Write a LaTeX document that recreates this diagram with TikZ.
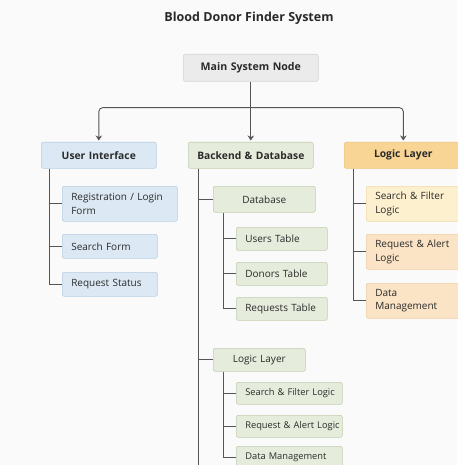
\documentclass[tikz,border=0pt]{standalone}
\usepackage{fontspec}
\setmainfont{Open Sans}
\usetikzlibrary{arrows.meta}
\definecolor{bg}{HTML}{FAFAFA}
\definecolor{txt}{HTML}{2A2A2A}
\definecolor{ln}{HTML}{555555}
\definecolor{grayf}{HTML}{EBEBEB}\definecolor{grayd}{HTML}{D4D4D4}
\definecolor{bluef}{HTML}{DCE9F4}\definecolor{blued}{HTML}{B7CEE2}
\definecolor{greenf}{HTML}{E6ECDB}\definecolor{greend}{HTML}{C2CEAE}
\definecolor{orf}{HTML}{F8D595}\definecolor{ord}{HTML}{EDC27A}
\definecolor{yelf}{HTML}{FDF0CF}\definecolor{yeld}{HTML}{EFD9A8}
\definecolor{pchf}{HTML}{FBE3C6}\definecolor{pchd}{HTML}{EECDA3}
\tikzset{
  box/.style={draw, rounded corners=2pt, line width=0.6pt, anchor=north west,
    inner xsep=9pt, inner ysep=0pt, text=txt, font=\fontsize{10}{13.5}\selectfont, align=left},
  small/.style={font=\fontsize{9.3}{12}\selectfont},
  head/.style={box, align=center, font=\bfseries\fontsize{10.3}{12}\selectfont},
  mid/.style={box, align=center},
  blue/.style={fill=bluef, draw=blued},
  green/.style={fill=greenf, draw=greend},
  orng/.style={fill=orf, draw=ord},
  yel/.style={fill=yelf, draw=yeld},
  pch/.style={fill=pchf, draw=pchd},
  tree/.style={draw=ln, line width=0.9pt},
  arr/.style={draw=ln, line width=0.9pt, -{Stealth[length=5pt,width=6.5pt]}, shorten >=1.5pt},
}
\begin{document}
\begin{tikzpicture}[x=1pt,y=-1pt]
\fill[bg] (0,0) rectangle (457,465);
\useasboundingbox (0,0) rectangle (457,465);

\node[font=\bfseries\fontsize{12.5}{14}\selectfont, text=txt] (title) at (249,18) {Blood Donor Finder System};

\node[head, fill=grayf, draw=grayd, minimum width=135pt, minimum height=27pt, text width=117pt, font=\bfseries\fontsize{10.6}{12}\selectfont] (main) at (183,54) {Main System Node};

\node[head, blue, minimum width=115pt, minimum height=26pt, text width=97pt] (ui) at (41,142) {User Interface};
\node[head, green, minimum width=125pt, minimum height=26pt, text width=107pt] (be) at (188,142) {\mbox{Backend \& Database}};
\node[head, orng, minimum width=118pt, minimum height=26pt, text width=100pt] (ll) at (344,142) {Logic Layer};

% UI children
\node[box, blue, minimum height=35pt, text width=97pt] (reg) at (62,186) {\mbox{Registration / Login}\\Form};
\node[box, blue, minimum height=24pt, text width=77pt] (sf) at (62,234) {Search Form};
\node[box, blue, minimum height=24pt, text width=77pt] (rs) at (62,272) {Request Status};

% Backend children
\node[mid, green, minimum height=26pt, text width=84pt] (db) at (213,186) {Database};
\node[box, green, minimum height=23pt, text width=73pt] (ut) at (236,227) {Users Table};
\node[box, green, minimum height=23pt, text width=73pt] (dt) at (236,262) {Donors Table};
\node[box, green, minimum height=23pt, text width=73pt] (rt) at (236,297) {\mbox{Requests Table}};

\node[mid, green, minimum height=23pt, text width=74pt] (lb) at (213,348) {Logic Layer};
\node[box, green, small, minimum height=22pt, text width=88pt] (sfl) at (236,382) {\mbox{Search \& Filter Logic}};
\node[box, green, small, minimum height=22pt, text width=88pt] (ral) at (236,415) {\mbox{Request \& Alert Logic}};
\node[box, green, small, minimum height=22pt, text width=88pt] (dml) at (236,446) {\mbox{Data Management}};

% Logic layer children
\node[box, yel, minimum height=35pt, text width=80pt] (lsf) at (366,186) {\mbox{Search \& Filter}\\Logic};
\node[box, pch, minimum height=35pt, text width=80pt] (lra) at (366,234) {\mbox{Request \& Alert}\\Logic};
\node[box, pch, minimum height=35pt, text width=80pt] (ldm) at (366,283) {Data\\Management};

% top connectors
\path (main.south) ++(0,26) coordinate (bar);
\draw[arr] (main.south) -- (be.north);
\draw[arr, rounded corners=4pt] (bar) -| (ui.north);
\draw[arr, rounded corners=4pt] (bar) -| (ll.north);

% UI tree
\coordinate (uiv) at ([xshift=8pt]ui.south west);
\draw[tree] (uiv) |- (rs.west);
\draw[tree] (uiv |- reg.west) -- (reg.west);
\draw[tree] (uiv |- sf.west) -- (sf.west);

% Backend tree
\coordinate (bev) at ([xshift=10pt]be.south west);
\coordinate (beend) at (bev |- 0,470);
\draw[tree] (bev) -- (beend);
\draw[tree] (bev |- db.west) -- (db.west);
\draw[tree] (bev |- lb.west) -- (lb.west);

\coordinate (dbv) at ([xshift=10pt]db.south west);
\draw[tree] (dbv) |- (rt.west);
\draw[tree] (dbv |- ut.west) -- (ut.west);
\draw[tree] (dbv |- dt.west) -- (dt.west);

\coordinate (lbv) at ([xshift=10pt]lb.south west);
\draw[tree] (lbv) |- (dml.west);
\draw[tree] (lbv |- sfl.west) -- (sfl.west);
\draw[tree] (lbv |- ral.west) -- (ral.west);

% Logic tree
\coordinate (llv) at ([xshift=9pt]ll.south west);
\draw[tree] (llv) |- (ldm.west);
\draw[tree] (llv |- lsf.west) -- (lsf.west);
\draw[tree] (llv |- lra.west) -- (lra.west);
\end{tikzpicture}
\end{document}
